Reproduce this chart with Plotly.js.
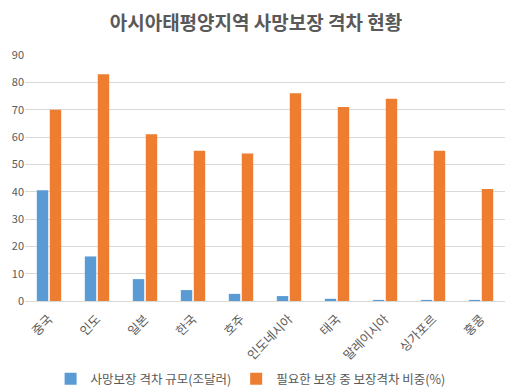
<!DOCTYPE html>
<html>
<head>
<meta charset="utf-8">
<script src="https://cdn.plot.ly/plotly-3.0.1.min.js"></script>
<style>html,body{margin:0;padding:0;background:#fff;}#chart{width:512px;height:390px;}</style>
</head>
<body>
<div id="chart"></div>
<script>
const categories = ['중국','인도','일본','한국','호주','인도네시아','태국','말레이시아','싱가포르','홍콩'];
const gapSize = [40.5, 16.3, 8.0, 4.0, 2.6, 1.8, 0.8, 0.4, 0.4, 0.4];
const gapShare = [70, 83, 61, 55, 54, 76, 71, 74, 55, 41];
const seriesNames = ['사망보장 격차 규모(조달러)', '필요한 보장 중 보장격차 비중(%)'];
const yTicks = [0,10,20,30,40,50,60,70,80,90];

const font = '"Noto Sans CJK KR", "Noto Sans", sans-serif';
const traces = [
  {type:'bar', name: seriesNames[0], x: categories, y: gapSize, marker:{color:'#5B9BD5'}},
  {type:'bar', name: seriesNames[1], x: categories, y: gapShare, marker:{color:'#ED7D31'}}
];
const layout = {
  width:512, height:390,
  margin:{l:25, r:7, t:55, b:89},
  paper_bgcolor:'#fff', plot_bgcolor:'#fff',
  font:{family:font, color:'#595959', size:11},
  title:{text:'<b>아시아태평양지역 사망보장 격차 현황</b>', x:0.5, xanchor:'center', y:0.94, yanchor:'middle', yref:'container', font:{family:font, size:19, color:'#595959'}},
  barmode:'group', bargap:0.46, bargroupgap:0.12,
  xaxis:{tickangle:-45, showline:true, linecolor:'#d9d9d9', linewidth:1, ticks:'', ticklabelstandoff:5, tickfont:{size:12.5, color:'#595959'}, fixedrange:true},
  yaxis:{range:[0,90], tickvals:yTicks, showgrid:true, gridcolor:'#d9d9d9', zeroline:false, showline:false, ticks:'', tickfont:{size:11, color:'#595959'}, fixedrange:true},
  showlegend:true,
  legend:{orientation:'h', x:0.47, xanchor:'center', yref:'container', y:0.028, yanchor:'middle', font:{size:12.5, color:'#595959'}, itemwidth:30}
};
Plotly.newPlot('chart', traces, layout, {displayModeBar:false, staticPlot:true});
</script>
</body>
</html>
